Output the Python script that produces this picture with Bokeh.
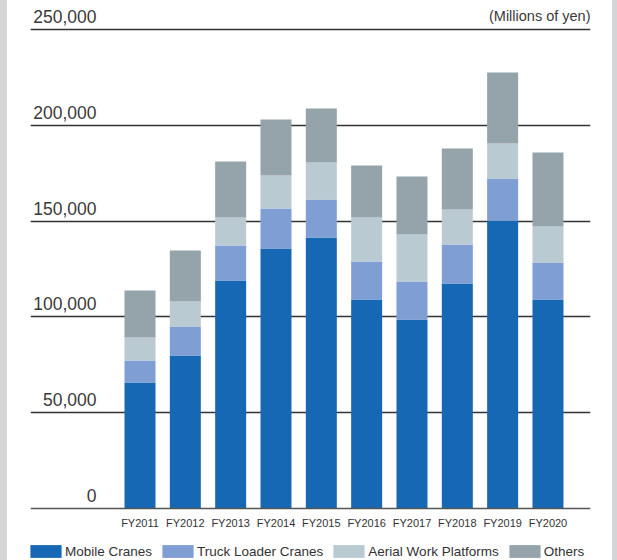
from bokeh.plotting import figure
from bokeh.models import ColumnDataSource, FixedTicker, Legend, LegendItem, Range1d, Spacer, Span
from bokeh.layouts import row
from bokeh.core.properties import value
from bokeh.embed import file_html
from bokeh.resources import INLINE

years = ["FY2011", "FY2012", "FY2013", "FY2014", "FY2015",
         "FY2016", "FY2017", "FY2018", "FY2019", "FY2020"]
mobile_cranes = [65.8, 79.9, 119.0, 135.7, 141.4, 109.1, 98.6, 117.4, 150.3, 109.1]
truck_loader = [11.4, 15.1, 18.3, 20.9, 19.9, 19.8, 19.9, 20.4, 21.9, 19.3]
aerial_work = [12.0, 13.0, 14.6, 17.2, 19.3, 23.0, 24.5, 18.3, 18.3, 18.8]
others = [24.6, 26.7, 29.2, 29.2, 28.2, 27.1, 30.3, 31.8, 37.1, 38.6]
y_ticks = [0, 50000, 100000, 150000, 200000, 250000]
y_tick_labels = ["0", "50,000", "100,000", "150,000", "200,000", "250,000"]
series_names = ["Mobile Cranes", "Truck Loader Cranes", "Aerial Work Platforms", "Others"]
colors = ["#1768b4", "#7f9ed3", "#bacad2", "#95a3aa"]

xs = list(range(len(years)))
src = ColumnDataSource(dict(
    x=xs,
    mobile=[v * 1000 for v in mobile_cranes],
    truck=[v * 1000 for v in truck_loader],
    aerial=[v * 1000 for v in aerial_work],
    others=[v * 1000 for v in others],
))

H = 560
ZERO_PX = 508          # pixel row of value 0
px_per_unit = 45.33
x_start = -(139.5 - 30) / px_per_unit
x_end = x_start + 560 / px_per_unit
y_per_px = 250000 / 479.0
y_start = -(H - ZERO_PX) * y_per_px
y_end = ZERO_PX * y_per_px

p = figure(width=605, height=H,
           x_range=Range1d(x_start, x_end), y_range=Range1d(y_start, y_end),
           output_backend="svg", toolbar_location=None,
           min_border_left=23, min_border_right=22, min_border_top=0,
           min_border_bottom=0)
p.outline_line_color = None
p.background_fill_color = "white"
p.border_fill_color = "white"
p.xaxis.visible = False
p.yaxis.visible = False
p.xgrid.visible = False

renderers = p.vbar_stack(["mobile", "truck", "aerial", "others"], x="x",
                         width=31 / px_per_unit, color=colors, source=src,
                         line_color=None)

# horizontal gridlines
p.ygrid.ticker = FixedTicker(ticks=y_ticks[1:])
p.ygrid.grid_line_color = "#333333"
p.ygrid.grid_line_width = 1.3
p.add_layout(Span(location=y_ticks[0], dimension="width",
                  line_color="#555555", line_width=1.3))

# category labels under the baseline
cat_src = ColumnDataSource(dict(x=xs, y=[y_ticks[0] - 8 * y_per_px] * len(xs), t=years))
p.text(x="x", y="y", text="t", source=cat_src, text_align="center",
       text_baseline="top", text_font=value("Liberation Sans"),
       text_font_size="11px", text_color="#333333")

# value labels just above their gridlines
label_x = x_start + (96 - 30) / px_per_unit
lab_src = ColumnDataSource(dict(x=[label_x] * len(y_ticks),
                                y=[t + 6.5 * y_per_px for t in y_ticks],
                                t=y_tick_labels))
p.text(x="x", y="y", text="t", source=lab_src, text_align="right",
       text_baseline="bottom",
       text_font=value("Liberation Sans"), text_font_size="17.5px",
       text_color="#3a3a3a")

unit_src = ColumnDataSource(dict(x=[x_end], y=[y_ticks[-1] + 6 * y_per_px],
                                 t=["(Millions of yen)"]))
p.text(x="x", y="y", text="t", source=unit_src, text_align="right",
       text_baseline="bottom",
       text_font=value("Liberation Sans"), text_font_size="14.5px",
       text_color="#3a3a3a")

legend = Legend(items=[LegendItem(label=n, renderers=[r]) for n, r in zip(series_names, renderers)],
                orientation="horizontal", location=(-4, 0.6),
                glyph_width=39, glyph_height=16, label_height=16,
                label_standoff=-1, spacing=6, padding=0, margin=0,
                border_line_color=None, background_fill_alpha=0,
                label_text_font="Liberation Sans", label_text_font_size="13.5px",
                label_text_color="#333333")
p.add_layout(legend, "center")

s1 = Spacer(width=7, height=H, styles={"background-color": "#d4d5d7"})
s2 = Spacer(width=5, height=H, styles={"background-color": "#d4d5d7"})
layout = row(s1, p, s2)

open("out.html", "w").write(file_html(layout, INLINE))
